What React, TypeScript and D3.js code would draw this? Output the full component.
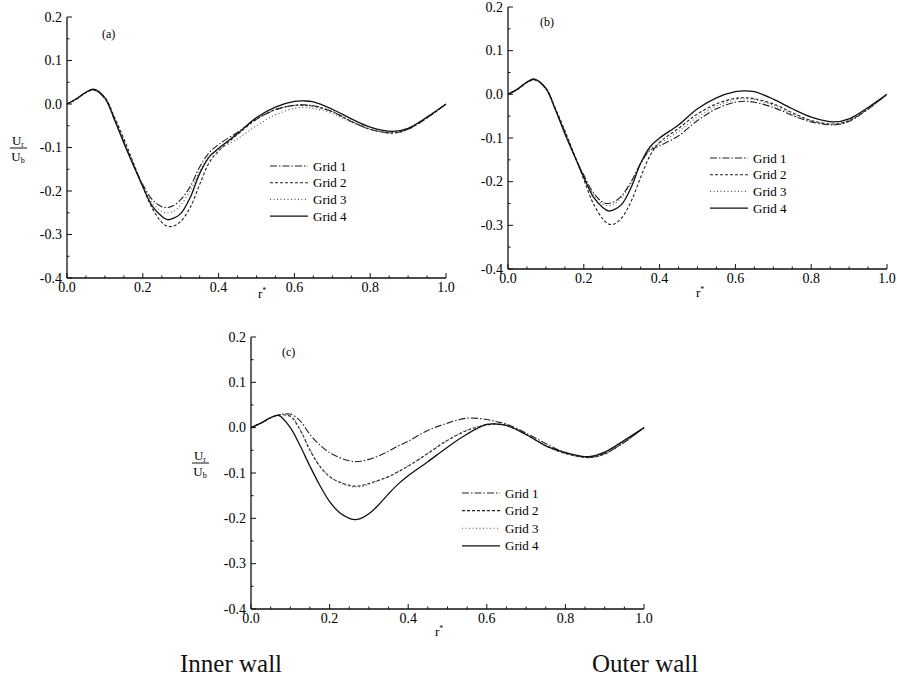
import React from "react";
import * as d3 from "d3";

// ---------- DATA ----------
const R = [0, 0.025, 0.05, 0.07, 0.1, 0.125, 0.15, 0.175, 0.2, 0.225, 0.25, 0.265, 0.28, 0.3, 0.325, 0.35, 0.375, 0.4, 0.45, 0.5, 0.55, 0.6, 0.625, 0.65, 0.7, 0.75, 0.8, 0.86, 0.9, 0.95, 1.0];

const seriesNames = ["Grid 1", "Grid 2", "Grid 3", "Grid 4"];
const xTicks = [0, 0.2, 0.4, 0.6, 0.8, 1.0];
const yTicks = [0.2, 0.1, 0.0, -0.1, -0.2, -0.3, -0.4];

// Panel (a)
const aGrid1 = [0, 0.012, 0.027, 0.033, 0.012, -0.035, -0.087, -0.14, -0.185, -0.22, -0.236, -0.238, -0.234, -0.22, -0.19, -0.145, -0.112, -0.093, -0.065, -0.035, -0.013, -0.003, -0.002, -0.004, -0.017, -0.04, -0.058, -0.066, -0.058, -0.032, 0];
const aGrid2 = [0, 0.011, 0.026, 0.032, 0.015, -0.03, -0.08, -0.135, -0.19, -0.24, -0.272, -0.281, -0.281, -0.27, -0.238, -0.185, -0.135, -0.108, -0.07, -0.035, -0.013, -0.003, -0.003, -0.005, -0.018, -0.04, -0.058, -0.067, -0.058, -0.032, 0];
const aGrid3 = [0, 0.012, 0.027, 0.033, 0.012, -0.035, -0.087, -0.14, -0.187, -0.227, -0.247, -0.25, -0.247, -0.232, -0.2, -0.155, -0.12, -0.105, -0.08, -0.05, -0.025, -0.01, -0.008, -0.01, -0.022, -0.042, -0.058, -0.065, -0.057, -0.03, 0];
const aGrid4 = [0, 0.012, 0.027, 0.034, 0.014, -0.035, -0.09, -0.14, -0.19, -0.235, -0.258, -0.266, -0.263, -0.252, -0.215, -0.16, -0.122, -0.102, -0.068, -0.031, -0.007, 0.006, 0.007, 0.005, -0.012, -0.034, -0.053, -0.063, -0.056, -0.03, 0];

// Panel (b)
const bGrid1 = [0, 0.012, 0.028, 0.034, 0.012, -0.035, -0.087, -0.14, -0.185, -0.225, -0.247, -0.25, -0.246, -0.232, -0.2, -0.158, -0.128, -0.118, -0.095, -0.06, -0.033, -0.018, -0.016, -0.018, -0.03, -0.048, -0.063, -0.07, -0.062, -0.034, 0];
const bGrid2 = [0, 0.011, 0.027, 0.033, 0.014, -0.032, -0.083, -0.138, -0.195, -0.25, -0.285, -0.297, -0.297, -0.283, -0.245, -0.19, -0.14, -0.11, -0.078, -0.045, -0.022, -0.009, -0.008, -0.01, -0.022, -0.042, -0.06, -0.068, -0.06, -0.033, 0];
const bGrid3 = [0, 0.012, 0.028, 0.034, 0.012, -0.035, -0.087, -0.14, -0.186, -0.228, -0.251, -0.255, -0.251, -0.236, -0.203, -0.158, -0.126, -0.112, -0.085, -0.052, -0.027, -0.012, -0.01, -0.012, -0.025, -0.045, -0.061, -0.068, -0.06, -0.033, 0];
const bGrid4 = [0, 0.012, 0.028, 0.035, 0.014, -0.035, -0.09, -0.14, -0.19, -0.235, -0.259, -0.267, -0.264, -0.252, -0.213, -0.158, -0.12, -0.1, -0.07, -0.033, -0.008, 0.006, 0.008, 0.006, -0.011, -0.033, -0.052, -0.063, -0.056, -0.03, 0];

// Panel (c)
const cGrid1 = [0, 0.01, 0.022, 0.028, 0.03, 0.015, -0.015, -0.038, -0.055, -0.066, -0.073, -0.075, -0.074, -0.07, -0.062, -0.052, -0.04, -0.03, -0.006, 0.01, 0.021, 0.018, 0.013, 0.008, -0.012, -0.035, -0.055, -0.065, -0.057, -0.032, 0];
const cGrid2 = [0, 0.01, 0.022, 0.028, 0.025, -0.005, -0.05, -0.085, -0.108, -0.12, -0.127, -0.129, -0.128, -0.123, -0.116, -0.108, -0.097, -0.085, -0.057, -0.028, -0.006, 0.006, 0.008, 0.005, -0.015, -0.04, -0.057, -0.066, -0.058, -0.032, 0];
const cGrid3 = [0, 0.01, 0.022, 0.028, 0.026, -0.004, -0.048, -0.084, -0.108, -0.121, -0.129, -0.131, -0.13, -0.125, -0.117, -0.108, -0.096, -0.084, -0.056, -0.027, -0.005, 0.007, 0.008, 0.005, -0.015, -0.04, -0.057, -0.066, -0.058, -0.032, 0];
const cGrid4 = [0, 0.01, 0.022, 0.027, 0.0, -0.04, -0.085, -0.127, -0.163, -0.187, -0.2, -0.203, -0.2, -0.19, -0.17, -0.146, -0.124, -0.106, -0.075, -0.043, -0.014, 0.007, 0.008, 0.005, -0.015, -0.04, -0.055, -0.064, -0.054, -0.028, 0];

// ---------- STYLE ----------
const dashes = ["7,2,1.5,2", "3,2", "1,2.5", ""];
const strokes = ["#222", "#222", "#555", "#111"];
const FONT = "'Liberation Serif', 'Times New Roman', serif";

type PanelProps = {
  x0: number; x1: number; yTop: number; yBot: number;
  series: number[][];
  tag: string; tagX: number; tagY: number;
  legX: number; legY: number; legStep: number;
  showYLabel: boolean; yLabX: number; yLabY: number;
  rLabX: number; rLabY: number;
};

function Panel(p: PanelProps) {
  const x = d3.scaleLinear().domain([0, 1]).range([p.x0, p.x1]);
  const y = d3.scaleLinear().domain([-0.4, 0.2]).range([p.yBot, p.yTop]);
  const line = d3.line<number>()
    .x((_, i) => x(R[i]))
    .y((d) => y(d))
    .curve(d3.curveCatmullRom.alpha(0.5));
  const xMinor = d3.range(0, 1.0001, 0.05);
  const yMinor = d3.range(-0.4, 0.2001, 0.05);
  return (
    <g>
      {/* axes */}
      <line x1={p.x0} y1={p.yBot} x2={p.x1} y2={p.yBot} stroke="#111" strokeWidth={1.3} />
      <line x1={p.x0} y1={p.yBot} x2={p.x0} y2={p.yTop} stroke="#111" strokeWidth={1.3} />
      {xMinor.map((t, i) => (
        <line key={"xm" + i} x1={x(t)} x2={x(t)} y1={p.yBot} y2={p.yBot - (i % 4 === 0 ? 5 : 2.5)} stroke="#111" strokeWidth={1} />
      ))}
      {yMinor.map((t, i) => (
        <line key={"ym" + i} y1={y(t)} y2={y(t)} x1={p.x0} x2={p.x0 + (i % 2 === 0 ? 5 : 2.5)} stroke="#111" strokeWidth={1} />
      ))}
      {xTicks.map((t) => (
        <text key={"xt" + t} x={x(t)} y={p.yBot + 14} textAnchor="middle" fontFamily={FONT} fontSize={14} fill="#000">
          {t.toFixed(1)}
        </text>
      ))}
      {yTicks.map((t) => (
        <text key={"yt" + t} x={p.x0 - 5} y={y(t) + 4.5} textAnchor="end" fontFamily={FONT} fontSize={14} fill="#000">
          {t.toFixed(1)}
        </text>
      ))}
      {/* curves */}
      {p.series.map((s, i) => (
        <path key={"s" + i} d={line(s) || ""} fill="none" stroke={strokes[i]} strokeWidth={i === 3 ? 1.3 : 1.1} strokeDasharray={dashes[i]} />
      ))}
      {/* legend */}
      {seriesNames.map((n, i) => (
        <g key={"l" + i}>
          <line x1={p.legX} x2={p.legX + 38} y1={p.legY + i * p.legStep} y2={p.legY + i * p.legStep} stroke={strokes[i]} strokeWidth={i === 3 ? 1.3 : 1.1} strokeDasharray={dashes[i]} />
          <text x={p.legX + 43} y={p.legY + i * p.legStep + 4.5} fontFamily={FONT} fontSize={13} fill="#000">{n}</text>
        </g>
      ))}
      <text x={p.tagX} y={p.tagY} fontFamily={FONT} fontSize={12} fill="#000">{p.tag}</text>
      {/* x label r* */}
      <text x={p.rLabX} y={p.rLabY} fontFamily={FONT} fontSize={13} fill="#000">
        r<tspan dy={-5} fontSize={8}>*</tspan>
      </text>
      {p.showYLabel && (
        <g fontFamily={FONT} fill="#000">
          <text x={p.yLabX + 8} y={p.yLabY - 3} textAnchor="middle" fontSize={13}>
            U<tspan fontSize={8} dy={2}>r</tspan>
          </text>
          <line x1={p.yLabX} x2={p.yLabX + 17} y1={p.yLabY} y2={p.yLabY} stroke="#111" strokeWidth={1} />
          <text x={p.yLabX + 8} y={p.yLabY + 13} textAnchor="middle" fontSize={13}>
            U<tspan fontSize={8} dy={2}>b</tspan>
          </text>
        </g>
      )}
    </g>
  );
}

export default function App() {
  return (
    <svg width={897} height={681} style={{ position: "absolute", left: 0, top: 0, background: "#fff" }}>
      <rect width={897} height={681} fill="#fff" />
      <Panel x0={67} x1={446} yTop={17} yBot={278} series={[aGrid1, aGrid2, aGrid3, aGrid4]}
        tag="(a)" tagX={102} tagY={38} legX={270} legY={166} legStep={16.7}
        showYLabel={true} yLabX={10} yLabY={148} rLabX={258} rLabY={298} />
      <Panel x0={508} x1={887} yTop={7} yBot={269} series={[bGrid1, bGrid2, bGrid3, bGrid4]}
        tag="(b)" tagX={540} tagY={26} legX={710} legY={158} legStep={16.7}
        showYLabel={false} yLabX={0} yLabY={0} rLabX={696} rLabY={297} />
      <Panel x0={251} x1={644} yTop={337} yBot={609} series={[cGrid1, cGrid2, cGrid3, cGrid4]}
        tag="(c)" tagX={282} tagY={356} legX={462} legY={493} legStep={17.6}
        showYLabel={true} yLabX={192} yLabY={463} rLabX={435} rLabY={636} />
      <text x={180} y={672} fontFamily={FONT} fontSize={25} fill="#111">Inner wall</text>
      <text x={592} y={672} fontFamily={FONT} fontSize={25} fill="#111">Outer wall</text>
    </svg>
  );
}
